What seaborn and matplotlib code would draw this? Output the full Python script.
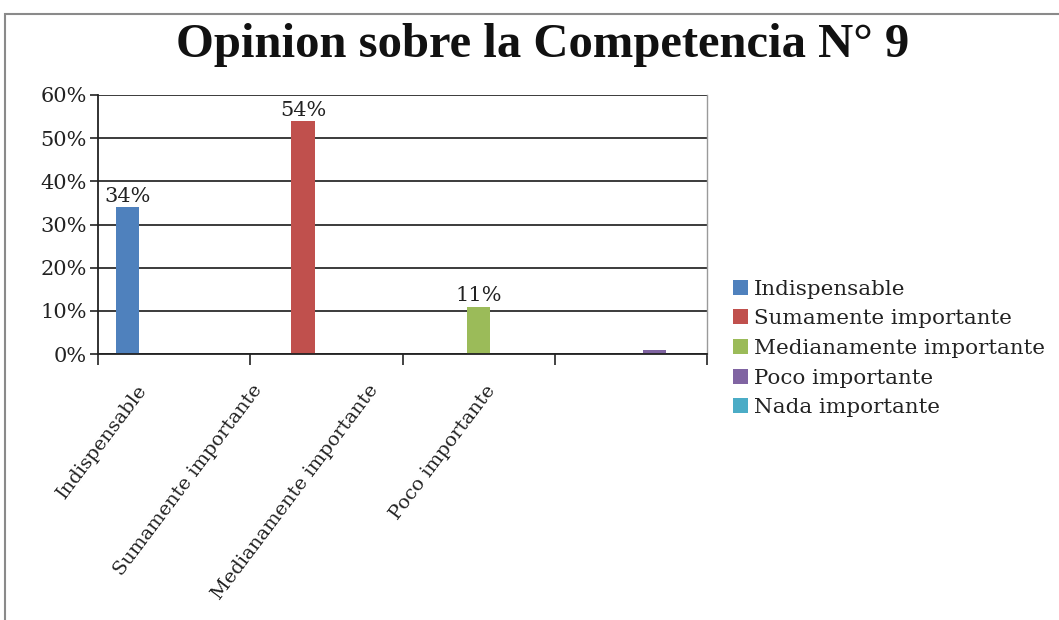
import matplotlib
matplotlib.use("Agg")
import matplotlib.pyplot as plt
import matplotlib.transforms as mtransforms
from matplotlib.patches import Rectangle
from matplotlib.ticker import FuncFormatter, FixedLocator
import seaborn as sns
import pandas as pd

# ---- data ----
categories = ["Indispensable", "Sumamente importante", "Medianamente importante", "Poco importante"]
series = ["Indispensable", "Sumamente importante", "Medianamente importante", "Poco importante", "Nada importante"]
indispensable = [34, 0, 0, 0]
sumamente = [0, 54, 0, 0]
medianamente = [0, 0, 11, 0]
poco = [0, 0, 0, 1]
nada = [0, 0, 0, 0]
yticks = [0, 10, 20, 30, 40, 50, 60]
title = "Opinion sobre la Competencia N° 9"
colors = ["#4F81BD", "#C0504D", "#9BBB59", "#8064A2", "#4BACC6"]

rows = []
for name, vals in zip(series, [indispensable, sumamente, medianamente, poco, nada]):
    for cat, v in zip(categories, vals):
        rows.append({"categoria": cat, "serie": name, "valor": v})
df = pd.DataFrame(rows)

sns.set_theme(style="white")
plt.rcParams["font.family"] = ["DejaVu Serif", "DejaVu Sans"]

fig = plt.figure(figsize=(10.59, 6.2), dpi=100)
ax = fig.add_axes([98 / 1059, 1 - 354 / 620, (707 - 98) / 1059, (354 - 95) / 620])

sns.barplot(data=df, x="categoria", y="valor", hue="serie", order=categories,
            hue_order=series, palette=colors, width=0.77, gap=0, saturation=1,
            errorbar=None, ax=ax, edgecolor="none", linewidth=0)

ax.set_ylim(0, 60)
ax.set_xlim(-0.5, len(categories) - 0.5)
ax.yaxis.set_major_locator(FixedLocator(yticks))
ax.yaxis.set_major_formatter(FuncFormatter(lambda v, p: f"{v:.0f}%"))
ax.grid(axis="y", color="#1a1a1a", linewidth=1.2)
ax.set_axisbelow(True)
ax.set_xlabel("")
ax.set_ylabel("")

for s in ["left", "bottom"]:
    ax.spines[s].set_color("#222222")
    ax.spines[s].set_linewidth(1.3)
ax.spines["top"].set_visible(False)
ax.spines["right"].set_color("#9a9a9a")
ax.spines["right"].set_linewidth(1.0)

ax.tick_params(axis="y", which="major", length=6, width=1.2, color="#222222",
               labelsize=15, labelcolor="#222222", pad=2, left=True, direction="out")
ax.set_xticks([i - 0.5 for i in range(len(categories) + 1)], minor=True)
ax.tick_params(axis="x", which="minor", length=8, width=1.2, color="#222222",
               bottom=True, direction="out")
ax.tick_params(axis="x", which="major", length=0, labelsize=14, labelcolor="#222222", pad=20)
ax.set_xticks(range(len(categories)))
ax.set_xticklabels(categories, rotation=53, ha="right", va="top", rotation_mode="anchor")
shifts = [-38, -75, -111, -146]
for lbl, dx in zip(ax.get_xticklabels(), shifts):
    lbl.set_transform(lbl.get_transform() + mtransforms.ScaledTranslation(dx / 100, 0, fig.dpi_scale_trans))

for cont in ax.containers:
    labels = [f"{b.get_height():.0f}%" if b.get_height() >= 5 else "" for b in cont]
    ax.bar_label(cont, labels=labels, padding=1, fontsize=15, color="#222222")

ax.legend(loc="center left", bbox_to_anchor=(722 / 1059, 1 - 348.5 / 620),
          bbox_transform=fig.transFigure, frameon=False, fontsize=15.4,
          handlelength=0.7, handleheight=0.7, handletextpad=0.3, labelspacing=0.5,
          borderpad=0, labelcolor="#222222")

fig.text(543 / 1059, 1 - 45 / 620, title, ha="center", va="center",
         fontsize=35, fontweight="bold", family=["Liberation Serif", "DejaVu Serif"], color="#111111")

# outer chart frame
fig.add_artist(Rectangle((5 / 1059, -0.05), 1.2, 1 - 14 / 620 + 0.05, transform=fig.transFigure,
                         fill=False, edgecolor="#8a8a8a", linewidth=1.5))

fig.savefig("out.png", dpi=100, facecolor="white")
